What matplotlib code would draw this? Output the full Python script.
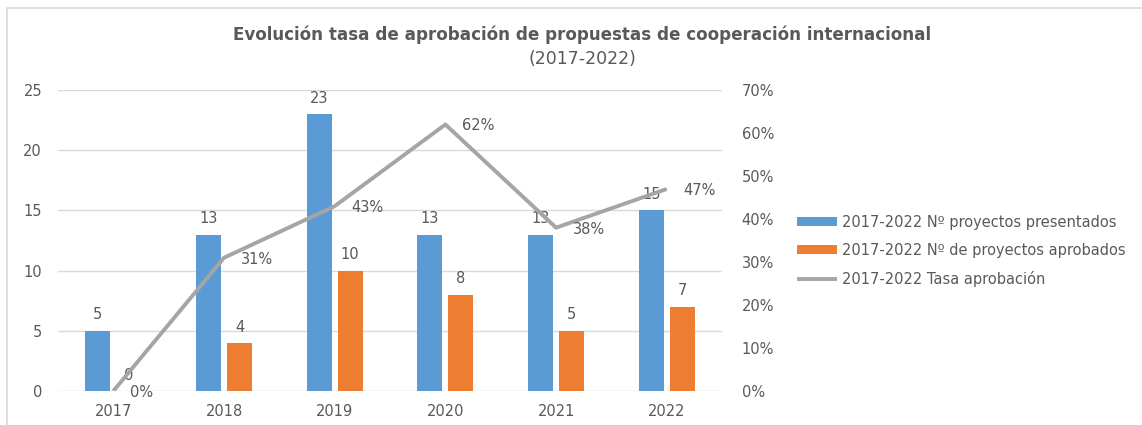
#!/usr/bin/env python3

from matplotlib import pyplot as plt
from matplotlib.patches import Rectangle
from matplotlib.ticker import PercentFormatter
import numpy as np

years = ['2017', '2018', '2019', '2020', '2021', '2022']
presentados = [5, 13, 23, 13, 13, 15]
aprobados = [0, 4, 10, 8, 5, 7]
tasa = [0.0, 0.31, 0.43, 0.62, 0.38, 0.47]

lbl_pres = '2017-2022 Nº proyectos presentados'
lbl_apr = '2017-2022 Nº de proyectos aprobados'
lbl_tasa = '2017-2022 Tasa aprobación'

blue = '#5B9BD5'
orange = '#ED7D31'
grey = '#A5A5A5'
txt = '#595959'

plt.rcParams['font.family'] = ['DejaVu Sans']

fig = plt.figure(figsize=(11.42, 4.25), dpi=100)
ax = fig.add_axes([0.0508, 0.08, 0.5815, 0.708])
ax2 = ax.twinx()

x = np.arange(len(years))
w = 0.225
b1 = ax.bar(x - 0.14, presentados, w, color=blue, label=lbl_pres, zorder=2)
b2 = ax.bar(x + 0.14, aprobados, w, color=orange, label=lbl_apr, zorder=2)
ax.bar_label(b1, padding=6, color=txt, fontsize=10.5)
ax.bar_label(b2, padding=6, color=txt, fontsize=10.5)

ln, = ax2.plot(x, tasa, color=grey, lw=2.8, label=lbl_tasa, solid_capstyle='butt')
for xi, t in zip(x, tasa):
    ax2.annotate('%d%%' % round(t * 100), (xi, t), xytext=(12, -1),
                 textcoords='offset points', ha='left', va='center',
                 color=txt, fontsize=10.5)

ax.set_xlim(-0.5, 5.5)
ax.set_ylim(0, 25)
ax.set_yticks(range(0, 26, 5))
ax2.set_ylim(0, 0.7)
ax2.set_yticks(np.arange(0, 0.71, 0.1))
ax2.yaxis.set_major_formatter(PercentFormatter(1.0, decimals=0))
ax.set_xticks(x)
ax.set_xticklabels(years)

ax.grid(axis='y', color='#D9D9D9', lw=1, zorder=0)
ax.set_axisbelow(True)
for a in (ax, ax2):
    for s in a.spines.values():
        s.set_visible(False)
    a.tick_params(length=0, colors=txt, labelsize=10.5)
ax.tick_params(axis='y', pad=11.5)
ax.tick_params(axis='x', pad=9)
ax2.tick_params(axis='y', pad=14)

handles = [b1, b2, ln]
fig.legend(handles, [h.get_label() for h in handles], loc='center left',
           bbox_to_anchor=(0.686, 0.41), frameon=False, fontsize=10.5,
           labelcolor=txt, handlelength=2.8, handleheight=0.5,
           handletextpad=0.3, labelspacing=0.9)

fig.text(0.51, 0.918, 'Evolución tasa de aprobación de propuestas de cooperación internacional',
         ha='center', va='center', fontsize=12.1, fontweight='bold', color=txt)
fig.text(0.51, 0.862, '(2017-2022)', ha='center', va='center', fontsize=12.5,
         color=txt)

fig.patches.append(Rectangle((7 / 1142, -0.1), 1.2, 1.1 - 8 / 425,
                             transform=fig.transFigure, fill=False,
                             edgecolor='#D9D9D9', lw=1.2))

plt.savefig('out.png', dpi=100)
